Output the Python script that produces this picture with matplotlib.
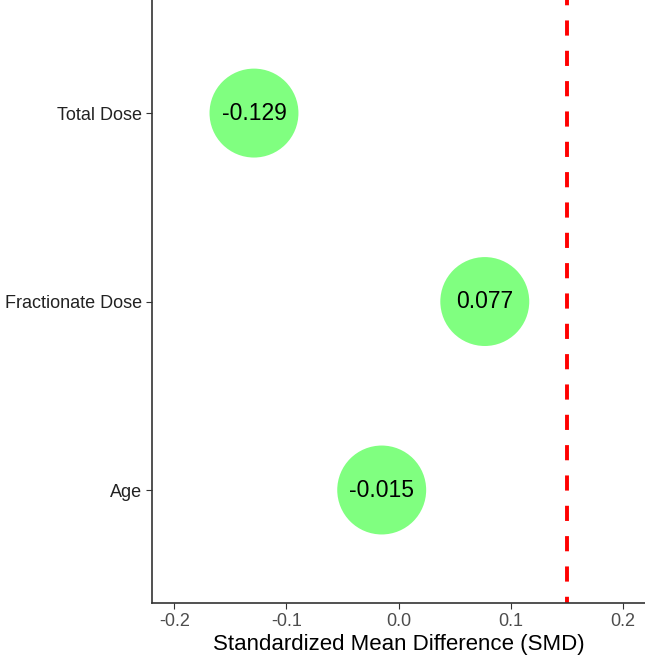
import matplotlib
matplotlib.use("Agg")
import matplotlib.pyplot as plt

plt.rcParams['font.family'] = ['Liberation Sans', 'DejaVu Sans']

categories = ["Age", "Fractionate Dose", "Total Dose"]
smd_values = [-0.015, 0.077, -0.129]
labels = ["-0.015", "0.077", "-0.129"]
threshold = 0.15
xticks = [-0.2, -0.1, 0.0, 0.1, 0.2]
xticklabels = ["-0.2", "-0.1", "0.0", "0.1", "0.2"]

fig = plt.figure(figsize=(6.45, 6.62), dpi=100)
ax = fig.add_axes([0.2357, 0.089, 0.7643, 0.911])

ypos = list(range(1, len(categories) + 1))
ax.scatter(smd_values, ypos, s=4100, color="#80FF80", edgecolors="none", zorder=2)
for x, y, t in zip(smd_values, ypos, labels):
    ax.text(x, y, t, ha="center", va="center", fontsize=16.5, color="black", zorder=3)

ax.axvline(threshold, color="red", linestyle=(2.3, (3.9, 3.9)), linewidth=2.8, zorder=1)

ax.set_xlim(-0.22, 0.22)
ax.set_ylim(0.4, 3.6)
ax.set_yticks(ypos)
ax.set_yticklabels(categories)
ax.set_xticks(xticks)
ax.set_xticklabels(xticklabels)
ax.tick_params(axis="x", colors="#333333", labelcolor="#4D4D4D", labelsize=13, length=4, width=0.8, pad=3)
ax.tick_params(axis="y", colors="#333333", labelcolor="#222222", labelsize=13, length=4, width=0.8, pad=3)
ax.set_xlabel("Standardized Mean Difference (SMD)", fontsize=16, color="black", labelpad=3)

for side in ["top", "right"]:
    ax.spines[side].set_visible(False)
for side in ["left", "bottom"]:
    ax.spines[side].set_color("#333333")
    ax.spines[side].set_linewidth(1.2)

fig.savefig("out.png", dpi=100)
